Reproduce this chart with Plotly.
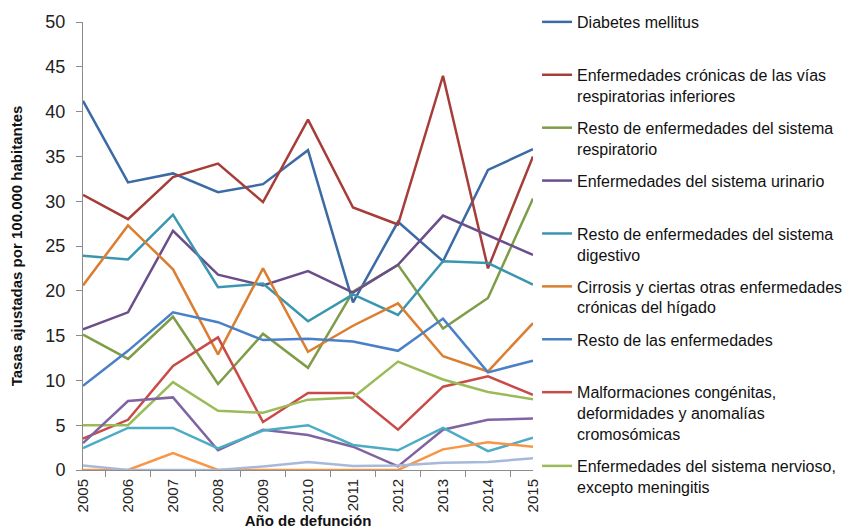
import plotly.graph_objs as go

years = ["2005", "2006", "2007", "2008", "2009", "2010", "2011", "2012", "2013", "2014", "2015"]

diabetes = [41.2, 32.1, 33.1, 31.0, 31.9, 35.7, 18.7, 27.7, 23.3, 33.5, 35.8]
cronicas_resp = [30.7, 28.0, 32.7, 34.2, 29.9, 39.1, 29.3, 27.4, 44.0, 22.5, 35.0]
resto_resp = [15.1, 12.4, 17.1, 9.6, 15.2, 11.4, 19.9, 22.9, 15.8, 19.2, 30.3]
urinario = [15.7, 17.6, 26.7, 21.8, 20.6, 22.2, 19.8, 22.9, 28.4, 26.2, 24.0]
resto_digestivo = [23.9, 23.5, 28.5, 20.4, 20.8, 16.6, 19.6, 17.3, 23.3, 23.1, 20.7]
cirrosis = [20.6, 27.3, 22.4, 12.9, 22.5, 13.2, 16.1, 18.6, 12.7, 11.0, 16.4]
resto_enf = [9.4, 13.3, 17.6, 16.5, 14.5, 14.65, 14.35, 13.3, 16.9, 10.9, 12.2]
malformaciones = [3.5, 5.6, 11.6, 14.8, 5.35, 8.6, 8.6, 4.5, 9.3, 10.45, 8.4]
nervioso = [5.0, 5.0, 9.8, 6.6, 6.4, 7.85, 8.1, 12.1, 10.1, 8.7, 7.9]
extra_purple = [3.0, 7.7, 8.1, 2.2, 4.5, 3.9, 2.6, 0.4, 4.5, 5.6, 5.75]
extra_cyan = [2.45, 4.7, 4.7, 2.4, 4.4, 5.0, 2.8, 2.2, 4.7, 2.1, 3.6]
extra_orange = [0.0, 0.0, 1.9, 0.0, 0.0, 0.0, 0.0, 0.0, 2.3, 3.1, 2.6]
extra_grey = [0.5, 0.0, 0.0, 0.0, 0.4, 0.9, 0.45, 0.5, 0.8, 0.9, 1.3]

# name shown in legend (None = not in legend), values, colour
series = [
    ("Diabetes mellitus<br> ", diabetes, "#3B6BA5"),
    ("Enfermedades crónicas de las vías<br>respiratorias inferiores", cronicas_resp, "#A73D39"),
    ("Resto de enfermedades del sistema<br>respiratorio", resto_resp, "#7F9C46"),
    ("Enfermedades del sistema urinario<br> ", urinario, "#6A4E8C"),
    ("Resto de enfermedades del sistema<br>digestivo", resto_digestivo, "#3A96AE"),
    ("Cirrosis y ciertas otras enfermedades<br>crónicas del hígado", cirrosis, "#DB7E30"),
    ("Resto de las enfermedades<br> ", resto_enf, "#4A80C8"),
    ("Malformaciones congénitas,<br>deformidades y anomalías<br>cromosómicas", malformaciones, "#C84B48"),
    ("Enfermedades del sistema nervioso,<br>excepto meningitis", nervioso, "#9BBB59"),
    (None, extra_purple, "#8064A2"),
    (None, extra_cyan, "#4BACC6"),
    (None, extra_orange, "#F79646"),
    (None, extra_grey, "#A7B9DA"),
]

fig = go.Figure()
for i, (name, vals, col) in enumerate(series):
    fig.add_scatter(x=years, y=vals, mode="lines", name=name if name else "s%d" % i,
                    showlegend=name is not None, legendgroup="g%d" % i,
                    line=dict(color=col, width=2.5))

# page body adds an 8px offset, so the figure margins are shifted by it
font = "Liberation Sans, Arial, sans-serif"
fig.update_layout(
    width=850, height=529,
    margin=dict(l=75, r=325, t=14, b=67, autoexpand=False),
    paper_bgcolor="white", plot_bgcolor="white",
    font=dict(family=font, color="#222222", size=16),
    legend=dict(x=1.009, xanchor="left", y=1.038, yanchor="top", valign="top",
                maxheight=1.0, tracegroupgap=8.3, font=dict(size=16, color="#111111"),
                bgcolor="rgba(0,0,0,0)"),
)
fig.update_yaxes(range=[0, 50], dtick=5, showgrid=False, zeroline=False,
                 showline=True, linecolor="#8c8c8c", linewidth=1,
                 ticks="outside", ticklen=6, tickcolor="#8c8c8c",
                 tickfont=dict(size=18), ticklabelstandoff=7,
                 title=dict(text="<b>Tasas ajustadas por 100.000 habitantes</b>",
                            font=dict(size=15, color="#111111"), standoff=26))
fig.update_xaxes(type="category", showgrid=False, showline=True, linecolor="#8c8c8c",
                 linewidth=1, ticks="outside", ticklen=6, tickcolor="#8c8c8c",
                 tickson="boundaries", tickangle=-90, tickfont=dict(size=15),
                 ticklabelstandoff=2,
                 title=dict(text="<b>Año de defunción</b>",
                            font=dict(size=15, color="#111111"), standoff=0))

fig.write_html("out.html")
